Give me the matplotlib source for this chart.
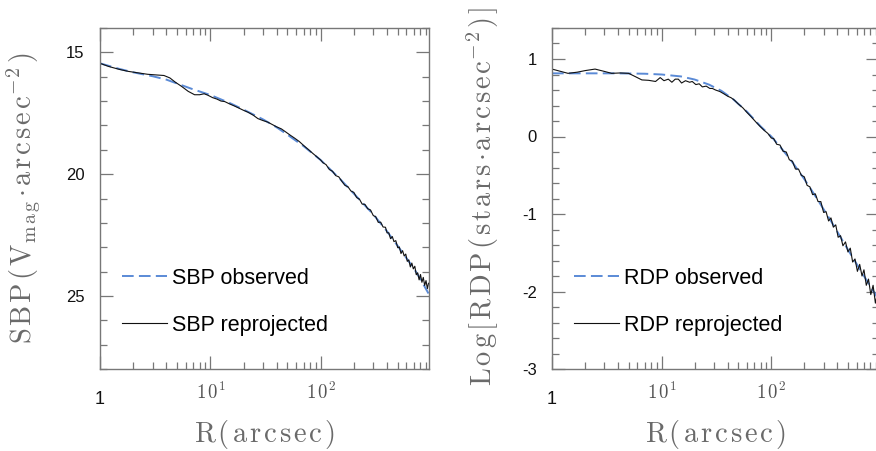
import numpy as np
import matplotlib
matplotlib.use("Agg")
import matplotlib.pyplot as plt
import matplotlib.transforms as mtransforms
from matplotlib.ticker import FixedLocator, MultipleLocator, LogLocator, NullFormatter

plt.rcParams['mathtext.fontset'] = 'cm'
plt.rcParams['axes.unicode_minus'] = False

# --- surface brightness profile (left) ---
r_sbp_obs = [1, 1.5, 2, 3, 4, 5, 7, 10, 15, 20, 30, 40, 50, 70, 100, 150, 200,
             300, 400, 500, 600, 700, 800, 950]
sbp_obs = [15.45, 15.68, 15.82, 15.98, 16.12, 16.28, 16.52, 16.75, 17.08, 17.35,
           17.75, 18.08, 18.38, 18.85, 19.42, 20.2, 20.8, 21.65, 22.35, 22.95,
           23.45, 23.87, 24.3, 24.9]

r_sbp_rep = [1.0, 1.2, 1.5, 1.8, 2.2, 2.7, 3.3, 3.8, 4.3, 4.8, 5.5, 6.3, 7.2, 8.0,
             8.8, 9.5, 10.5, 11.5, 12.5, 13.5, 15, 16.5, 18, 20, 22, 24.5, 27, 30,
             33, 36, 40, 44, 48, 53, 58, 64, 70, 77, 85, 92, 100,
             105, 112, 120, 128, 137, 146, 156, 166, 177, 188, 200, 212, 225, 238,
             252, 267, 283, 300, 316, 333, 350, 368, 387, 400, 415, 430, 446, 462,
             480, 500, 517, 535, 553, 572, 591, 610, 630, 650, 671, 692, 714, 736,
             758, 781, 804, 828, 852, 877, 902, 928, 950]
sbp_rep = [15.45, 15.58, 15.70, 15.78, 15.84, 15.90, 15.93, 15.95, 16.05, 16.22,
           16.40, 16.60, 16.74, 16.74, 16.70, 16.76, 16.86, 16.92, 17.00, 17.02,
           17.12, 17.20, 17.28, 17.38, 17.46, 17.58, 17.72, 17.80, 17.86, 17.95,
           18.06, 18.14, 18.26, 18.40, 18.52, 18.66, 18.82, 18.98, 19.15, 19.28,
           19.42,
           19.53, 19.61, 19.81, 19.88, 20.06, 20.11, 20.30, 20.46, 20.52, 20.69,
           20.75, 20.96, 21.03, 21.23, 21.24, 21.42, 21.47, 21.70, 21.75, 21.98,
           21.97, 22.17, 22.18, 22.41, 22.41, 22.65, 22.56, 22.77, 22.73, 23.02,
           22.99, 23.26, 23.14, 23.36, 23.28, 23.58, 23.52, 23.81, 23.65, 23.89,
           23.78, 24.13, 24.05, 24.34, 24.12, 24.44, 24.24, 24.57, 24.37, 24.70,
           24.48]

# --- radial density profile (right) ---
r_rdp_obs = [1, 2, 4, 7, 10, 15, 20, 27, 35, 45, 60, 80, 100, 120, 150, 200, 250,
             350, 500, 700, 950]
rdp_obs = [0.815, 0.815, 0.815, 0.81, 0.80, 0.775, 0.735, 0.67, 0.59, 0.48, 0.32,
           0.13, 0.0, -0.13, -0.30, -0.55, -0.76, -1.09, -1.46, -1.80, -2.10]

r_rdp_rep = [1.0, 1.2, 1.4, 1.7, 2.0, 2.47, 3.0, 3.5, 4.2, 5.0, 5.8, 6.6, 7.6, 8.8,
             9.7, 10.5, 11.5, 12.4, 13.3, 14.2, 15.2, 16.5, 18, 19, 20.5, 22, 23.5,
             25.5, 27.5, 29, 31, 34, 37, 40, 43, 46, 50, 55, 60, 66, 72, 79, 86, 93,
             100, 105, 112, 120, 128, 137, 146, 156, 166, 177, 188, 200, 212, 225,
             238, 252, 267, 283, 300, 316, 333, 350, 368, 387, 407, 428, 450, 475,
             500, 525, 552, 580, 610, 640, 672, 700, 735, 770, 808, 848, 890, 930, 950]
rdp_rep = [0.87, 0.84, 0.815, 0.83, 0.85, 0.87, 0.84, 0.815, 0.82, 0.815, 0.77,
           0.73, 0.725, 0.71, 0.76, 0.72, 0.74, 0.70, 0.74, 0.74, 0.69, 0.72, 0.70,
           0.71, 0.67, 0.68, 0.64, 0.65, 0.62, 0.62, 0.60, 0.58, 0.55, 0.52, 0.50,
           0.47, 0.42, 0.37, 0.31, 0.25, 0.19, 0.13, 0.08, 0.04, -0.02,
           -0.025, -0.10, -0.11, -0.19, -0.20, -0.30, -0.32, -0.42, -0.42, -0.50,
           -0.52, -0.63, -0.65, -0.75, -0.74, -0.84, -0.84, -0.98, -0.97, -1.09,
           -1.05, -1.17, -1.14, -1.30, -1.28, -1.41, -1.36, -1.49, -1.44, -1.62,
           -1.58, -1.74, -1.65, -1.80, -1.72, -1.92, -1.84, -2.04, -1.92, -2.15,
           -2.02, -2.19]

x_ticks = [1, 10, 100]

BLUE = '#5a8ad6'
GRAY = '#777777'
LABEL_GRAY = '#6a6a6a'
GAP = r'\hspace{0.12}'
DOT = r'\hspace{-0.2}\cdot\hspace{-0.2}'


def wide(tokens):
    # letter-spaced roman text, like the plotting package's default font
    return r'$\mathrm{' + GAP.join(tokens) + '}$'


x_ticklabels = ['1',
                r'$\mathrm{1\hspace{0.15}0^{1}}$',
                r'$\mathrm{1\hspace{0.15}0^{2}}$']
xlabel = wide(list('R(arcsec)'))
ylabel_sbp = wide(['S', 'B', 'P', '(', r'V_{m\hspace{0.15}a\hspace{0.15}g}', DOT,
                   'a', 'r', 'c', 's', 'e', r'c^{-\hspace{0.1}2}', ')'])
ylabel_rdp = wide(['L', 'o', 'g', '[', 'R', 'D', 'P', '(', 's', 't', 'a', 'r', 's',
                   DOT, 'a', 'r', 'c', 's', 'e', r'c^{-\hspace{0.1}2}', ')', ']'])
LABEL_SIZE = 20.5

fig = plt.figure(figsize=(8.76, 4.51), dpi=100)
W, H = 876, 451
ax1 = fig.add_axes([100 / W, (H - 369) / H, 329 / W, 341 / H])
ax2 = fig.add_axes([552 / W, (H - 369) / H, 327 / W, 341 / H])
shift_down = mtransforms.ScaledTranslation(0, -9 / 100, fig.dpi_scale_trans)


def style_axes(ax):
    ax.set_xscale('log')
    ax.set_xlim(1, 960)
    ax.xaxis.set_major_locator(FixedLocator(x_ticks))
    ax.set_xticklabels(x_ticklabels)
    ax.xaxis.set_minor_locator(LogLocator(base=10, subs=np.arange(2, 10)))
    ax.xaxis.set_minor_formatter(NullFormatter())
    for s in ax.spines.values():
        s.set_color(GRAY)
        s.set_linewidth(1.0)
    ax.tick_params(which='both', direction='in', top=True, right=True, color=GRAY, width=0.9)
    ax.tick_params(which='major', length=9.5)
    ax.tick_params(which='minor', length=5)
    ax.tick_params(axis='y', labelsize=12, pad=11)
    ax.tick_params(axis='x', pad=9)
    labels = ax.get_xticklabels()
    labels[0].set_fontfamily('Liberation Sans')
    labels[0].set_fontsize(13)
    labels[0].set_color('#111111')
    labels[0].set_transform(labels[0].get_transform() + shift_down)
    for lb in labels[1:]:
        lb.set_fontsize(13.5)
        lb.set_color('#555555')
    for lb in ax.get_yticklabels():
        lb.set_fontfamily('Liberation Sans')
        lb.set_color('#111111')
    ax.set_xlabel(xlabel, fontsize=LABEL_SIZE, color=LABEL_GRAY)
    ax.xaxis.set_label_coords(0.5, -0.145)


# left panel
ax1.plot(r_sbp_obs, sbp_obs, color=BLUE, lw=1.4, ls=(0, (6, 2.7)), label='SBP observed')
ax1.plot(r_sbp_rep, sbp_rep, color='#111111', lw=0.8, label='SBP reprojected')
ax1.set_ylim(28, 14)
ax1.yaxis.set_major_locator(FixedLocator([15, 20, 25]))
ax1.yaxis.set_minor_locator(MultipleLocator(1))
style_axes(ax1)
ax1.set_ylabel(ylabel_sbp, fontsize=LABEL_SIZE, color=LABEL_GRAY)
ax1.yaxis.set_label_coords(-0.175, 0.5)

# right panel
ax2.plot(r_rdp_obs, rdp_obs, color=BLUE, lw=1.4, ls=(0, (6, 2.7)), label='RDP observed')
ax2.plot(r_rdp_rep, rdp_rep, color='#111111', lw=0.8, label='RDP reprojected')
ax2.set_ylim(-3, 1.4)
ax2.yaxis.set_major_locator(FixedLocator([-3, -2, -1, 0, 1]))
ax2.yaxis.set_minor_locator(MultipleLocator(0.2))
style_axes(ax2)
ax2.set_ylabel(ylabel_rdp, fontsize=LABEL_SIZE, color=LABEL_GRAY)
ax2.yaxis.set_label_coords(-0.157, 0.505)

for ax in (ax1, ax2):
    ax.legend(loc='center left', bbox_to_anchor=(0.066, 0.197), frameon=False,
              prop={'family': 'Liberation Sans', 'size': 15.5},
              handlelength=2.1, handletextpad=0.25, labelspacing=1.2,
              borderpad=0, borderaxespad=0)

fig.savefig('out.png', dpi=100)
